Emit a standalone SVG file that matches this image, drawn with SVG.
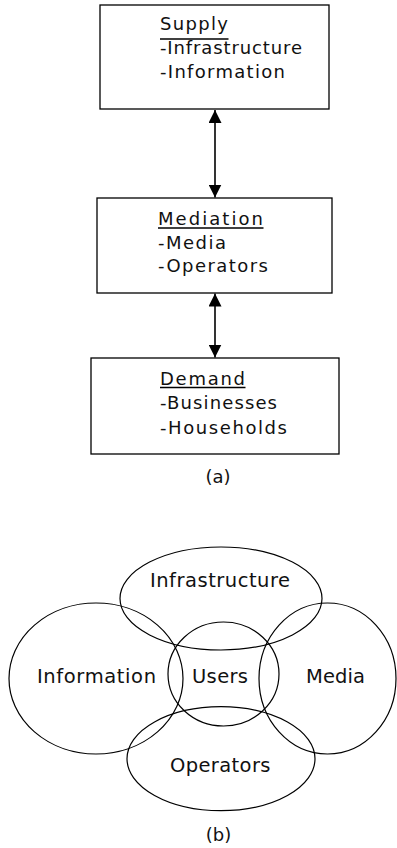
<svg xmlns="http://www.w3.org/2000/svg" width="397" height="848" viewBox="0 0 397 848">
<style>
.box{fill:#fff;stroke:#000;stroke-width:1.3}
.ell{fill:none;stroke:#000;stroke-width:1.2}
.t{font-family:"DejaVu Sans","Liberation Sans",sans-serif;font-size:18px;fill:#111}
.c{font-family:"DejaVu Sans","Liberation Sans",sans-serif;font-size:19.5px;fill:#111}
.ul{stroke:#000;stroke-width:1.4}
.conn{stroke:#000;stroke-width:1.6;fill:none;marker-start:url(#ah);marker-end:url(#ah)}
</style>
<defs>
<marker id="ah" viewBox="0 0 10 10" refX="10" refY="5" markerWidth="13" markerHeight="13" markerUnits="userSpaceOnUse" orient="auto-start-reverse">
<path d="M0,0 L10,5 L0,10 Z" fill="#000"/>
</marker>
</defs>
<g id="connectors">
<line class="conn" x1="215" y1="110" x2="215" y2="197.5"/>
<line class="conn" x1="215" y1="293.5" x2="215" y2="357.5"/>
</g>
<g id="supply">
<rect class="box" x="100" y="5" width="229" height="104"/>
<text class="t" x="160" y="30" textLength="68" lengthAdjust="spacing">Supply</text>
<line class="ul" x1="160" y1="39" x2="228.5" y2="39"/>
<text class="t" x="160" y="53.5" textLength="142" lengthAdjust="spacing">-Infrastructure</text>
<text class="t" x="160" y="77.5" textLength="125" lengthAdjust="spacing">-Information</text>
</g>
<g id="mediation">
<rect class="box" x="97" y="198" width="235" height="95"/>
<text class="t" x="158" y="225" textLength="105" lengthAdjust="spacing">Mediation</text>
<line class="ul" x1="158" y1="228" x2="263.5" y2="228"/>
<text class="t" x="158" y="248.5" textLength="68" lengthAdjust="spacing">-Media</text>
<text class="t" x="158" y="272" textLength="110" lengthAdjust="spacing">-Operators</text>
</g>
<g id="demand">
<rect class="box" x="91" y="358" width="248" height="96"/>
<text class="t" x="160" y="384.5" textLength="85" lengthAdjust="spacing">Demand</text>
<line class="ul" x1="160" y1="387.5" x2="245.5" y2="387.5"/>
<text class="t" x="160" y="408.5" textLength="117" lengthAdjust="spacing">-Businesses</text>
<text class="t" x="160" y="434" textLength="127" lengthAdjust="spacing">-Households</text>
</g>
<text class="t" x="218" y="483" text-anchor="middle">(a)</text>
<g id="infrastructure">
<ellipse class="ell" cx="221" cy="598.5" rx="101" ry="51.5"/>
<text class="c" x="150" y="587" textLength="140" lengthAdjust="spacing">Infrastructure</text>
</g>
<g id="information">
<ellipse class="ell" cx="96" cy="678.5" rx="87" ry="75.5"/>
<text class="c" x="37" y="683" textLength="119" lengthAdjust="spacing">Information</text>
</g>
<g id="media">
<ellipse class="ell" cx="327.5" cy="678.5" rx="68.5" ry="75.5"/>
<text class="c" x="306" y="683" textLength="59" lengthAdjust="spacing">Media</text>
</g>
<g id="users">
<ellipse class="ell" cx="223.5" cy="674" rx="55.5" ry="52"/>
<text class="c" x="192" y="683" textLength="56" lengthAdjust="spacing">Users</text>
</g>
<g id="operators">
<ellipse class="ell" cx="221" cy="758.7" rx="94" ry="52"/>
<text class="c" x="170" y="771.5" textLength="100.5" lengthAdjust="spacing">Operators</text>
</g>
<text class="t" x="218.5" y="841" text-anchor="middle">(b)</text>
</svg>
